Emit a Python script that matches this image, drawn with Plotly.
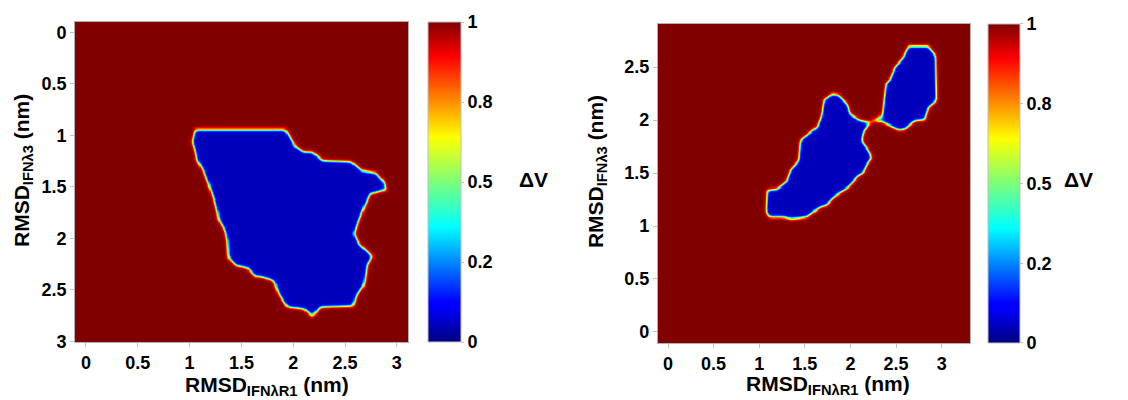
import numpy as np
import plotly.graph_objects as go

# ---------------- data ----------------
# Left panel: boundary of the low-ΔV basin (x = RMSD_IFNλR1, y = RMSD_IFNλ3, nm)
left_bx = [1.05, 1.92, 2.02, 2.10, 2.18, 2.28, 2.55, 2.66, 2.79, 2.87, 2.89, 2.74, 2.68, 2.63,
           2.58, 2.63, 2.76, 2.71, 2.68, 2.61, 2.57, 2.26, 2.18, 2.10, 1.94, 1.86, 1.81, 1.71,
           1.63, 1.55, 1.45, 1.37, 1.36, 1.34, 1.28, 1.26, 1.23, 1.18, 1.13, 1.07, 1.04, 1.02]
left_by = [0.94, 0.94, 1.11, 1.16, 1.16, 1.24, 1.25, 1.34, 1.36, 1.45, 1.52, 1.56, 1.69, 1.81,
           1.95, 2.05, 2.17, 2.25, 2.44, 2.54, 2.65, 2.66, 2.75, 2.68, 2.66, 2.54, 2.41, 2.37,
           2.36, 2.28, 2.26, 2.18, 2.02, 1.92, 1.82, 1.73, 1.61, 1.47, 1.34, 1.24, 1.11, 1.06]

# Right panel: two basins
right_ax = [1.08, 1.19, 1.30, 1.34, 1.43, 1.45, 1.52, 1.63, 1.68, 1.70, 1.79, 1.86, 1.96, 1.99,
            2.10, 2.21, 2.14, 2.12, 2.19, 2.23, 2.18, 2.14, 2.08, 1.97, 1.81, 1.74, 1.65, 1.52,
            1.35, 1.26, 1.10, 1.07]
right_ay = [1.34, 1.35, 1.43, 1.53, 1.62, 1.81, 1.86, 1.94, 2.06, 2.19, 2.25, 2.24, 2.15, 2.06,
            2.00, 1.98, 1.89, 1.81, 1.72, 1.65, 1.59, 1.51, 1.48, 1.37, 1.28, 1.21, 1.18, 1.09,
            1.07, 1.09, 1.09, 1.14]
right_bx = [2.63, 2.85, 2.93, 2.94, 2.85, 2.81, 2.70, 2.59, 2.52, 2.43, 2.34, 2.25, 2.34, 2.36,
            2.38, 2.43, 2.48, 2.54, 2.57]
right_by = [2.70, 2.70, 2.61, 2.19, 2.12, 2.01, 2.00, 1.92, 1.91, 1.95, 1.99, 2.00, 2.04, 2.19,
            2.34, 2.39, 2.50, 2.56, 2.59]

basin_level = 0.05      # ΔV inside basins
plateau_level = 1.0     # ΔV elsewhere

x_ticks = [0, 0.5, 1, 1.5, 2, 2.5, 3]
left_y_ticks = [0, 0.5, 1, 1.5, 2, 2.5, 3]
right_y_ticks = [0, 0.5, 1, 1.5, 2, 2.5]
cbar_tickvals = [0, 0.25, 0.5, 0.75, 1]
cbar_ticktext = ["0", "0.2", "0.5", "0.8", "1"]

xtitle = "RMSD<sub>IFNλR1</sub> (nm)"
ytitle = "RMSD<sub>IFNλ3</sub> (nm)"
cbar_title = "ΔV"

# ---------------- field construction ----------------
def signed_dist(px, py, xs, ys):
    xs = np.asarray(xs, float); ys = np.asarray(ys, float)
    x2, y2 = np.roll(xs, -1), np.roll(ys, -1)
    dx, dy = x2 - xs, y2 - ys
    P = px[..., None]; Q = py[..., None]
    t = np.clip(((P - xs) * dx + (Q - ys) * dy) / (dx * dx + dy * dy), 0, 1)
    d = np.hypot(P - (xs + t * dx), Q - (ys + t * dy)).min(-1)
    cond = (ys > Q) != (y2 > Q)
    xint = xs + (Q - ys) * dx / np.where(dy == 0, 1e-12, dy)
    inside = ((cond & (P < xint)).sum(-1) % 2) == 1
    return np.where(inside, -d, d)


def blur(a, sigma):
    r = int(3 * sigma)
    k = np.exp(-0.5 * (np.arange(-r, r + 1) / sigma) ** 2)
    k /= k.sum()
    ap = np.pad(a, r, mode="edge")
    ap = np.apply_along_axis(lambda v: np.convolve(v, k, mode="valid"), 1, ap)
    ap = np.apply_along_axis(lambda v: np.convolve(v, k, mode="valid"), 0, ap)
    return ap


def field(gx, gy, polys, s=0.008):
    PX, PY = np.meshgrid(gx, gy)
    d = None
    for xs, ys in polys:
        di = signed_dist(PX, PY, xs, ys)
        d = di if d is None else -s * 2 * np.log(np.exp(-d / (2 * s)) + np.exp(-di / (2 * s)))
    d = blur(d, 1.6)
    f = 1.0 / (1.0 + np.exp(-d / s))
    return basin_level + (plateau_level - basin_level) * f


gx1 = np.linspace(-0.11, 3.11, 300)
gy1 = np.linspace(-0.11, 3.01, 300)
z1 = field(gx1, gy1, [(left_bx, left_by)])

gx2 = np.linspace(-0.12, 3.32, 310)
gy2 = np.linspace(-0.11, 2.91, 280)
z2 = field(gx2, gy2, [(right_ax, right_ay), (right_bx, right_by)])

jet = [[0, "rgb(0,0,128)"], [0.11, "rgb(0,0,255)"], [0.125, "rgb(0,0,255)"],
       [0.36, "rgb(0,255,255)"], [0.5, "rgb(124,255,121)"], [0.64, "rgb(255,255,0)"],
       [0.89, "rgb(255,0,0)"], [1, "rgb(128,0,0)"]]

# ---------------- figure ----------------
fig = go.Figure()
fig.add_trace(go.Heatmap(x=gx1, y=gy1, z=z1, coloraxis="coloraxis", zsmooth="best",
                         xaxis="x", yaxis="y", hoverinfo="skip"))
fig.add_trace(go.Heatmap(x=gx2, y=gy2, z=z2, coloraxis="coloraxis2", zsmooth="best",
                         xaxis="x2", yaxis="y2", hoverinfo="skip"))

axis_common = dict(ticks="outside", ticklen=4, tickcolor="#c0c0c0", tickwidth=1,
                   showline=True, linecolor="#b0b0b0", linewidth=1, mirror=True,
                   showgrid=False, zeroline=False, automargin=False,
                   tickfont=dict(size=18))
title_font = dict(size=21)

cbar_common = dict(tickvals=cbar_tickvals, ticktext=cbar_ticktext, ticks="outside",
                   ticklen=3, tickcolor="#c0c0c0", outlinecolor="#c0c0c0", outlinewidth=1,
                   thicknessmode="pixels", lenmode="fraction", yanchor="middle",
                   xanchor="left", xpad=0, ypad=0, tickfont=dict(size=18))


def ann(text, x, y, angle=0, xanchor="center"):
    return dict(text=text, x=x, y=y, xref="paper", yref="paper", showarrow=False,
                textangle=angle, xanchor=xanchor, yanchor="middle", font=title_font)


fig.update_layout(
    width=1128, height=400,
    margin=dict(l=0, r=0, t=0, b=0),
    paper_bgcolor="white", plot_bgcolor="white",
    font=dict(family="Liberation Sans, Arial, sans-serif", color="black", weight="bold"),
    showlegend=False,
    xaxis=dict(domain=[0.0665, 0.3617], range=[-0.106, 3.108], tickvals=x_ticks, anchor="y",
               **axis_common),
    yaxis=dict(domain=[0.145, 0.945], range=[3.005, -0.1], tickvals=left_y_ticks, anchor="x",
               **axis_common),
    xaxis2=dict(domain=[0.5833, 0.8599], range=[-0.11, 3.31], tickvals=x_ticks, anchor="y2",
                **axis_common),
    yaxis2=dict(domain=[0.1425, 0.94], range=[-0.104, 2.906], tickvals=right_y_ticks, anchor="x2",
                **axis_common),
    coloraxis=dict(colorscale=jet, cmin=0, cmax=1,
                   colorbar=dict(x=0.3794, y=0.545, len=0.8, thickness=33, **cbar_common)),
    coloraxis2=dict(colorscale=jet, cmin=0, cmax=1,
                    colorbar=dict(x=0.8759, y=0.5413, len=0.7975, thickness=32, **cbar_common)),
    annotations=[
        ann(xtitle, 0.2367, 0.036),
        ann(xtitle, 0.734, 0.0385),
        ann(ytitle, 0.0204, 0.5725, angle=-90),
        ann(ytitle, 0.5293, 0.57, angle=-90),
        ann(cbar_title, 0.4583, 0.55, xanchor="left"),
        ann(cbar_title, 0.9413, 0.55, xanchor="left"),
    ],
)

fig.write_html("out.html", config={"displayModeBar": False},
               post_script="document.body.style.margin='0';")
